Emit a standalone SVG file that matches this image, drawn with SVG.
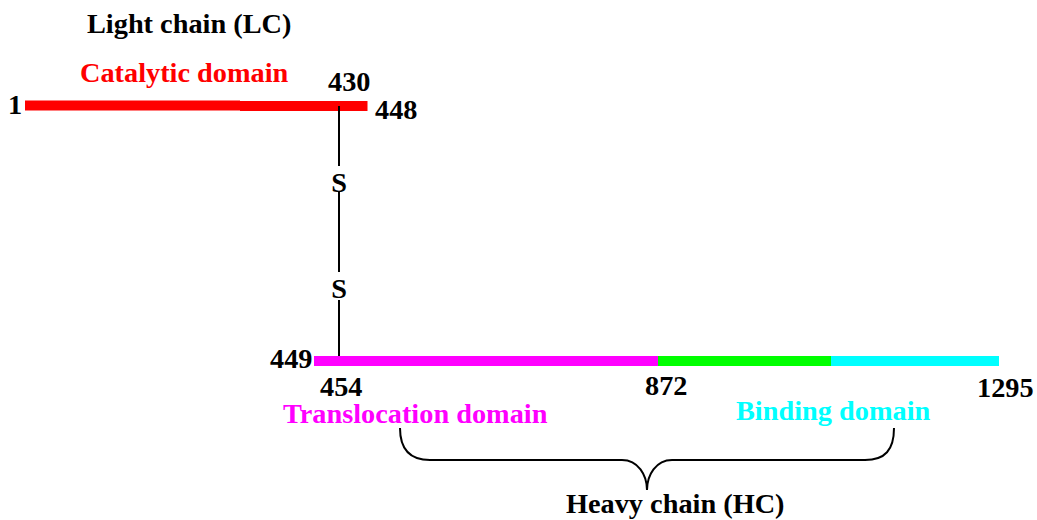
<svg xmlns="http://www.w3.org/2000/svg" width="1037" height="520" viewBox="0 0 1037 520">
<style>
text{font-family:"Liberation Serif","Times New Roman",serif;font-weight:bold;font-size:28.3px;fill:#000}
.red{fill:#ff0000}.mag{fill:#ff00ff}.cyan{fill:#00ffff}
.ln{stroke:#000;stroke-width:2;fill:none}
</style>
<rect width="1037" height="520" fill="#fff"/>
<g id="light-chain">
<text x="87" y="33">Light chain (LC)</text>
<text class="red" x="80" y="82">Catalytic domain</text>
<rect x="25" y="100.5" width="215" height="10" fill="#ff0000"/>
<rect x="240" y="101" width="127.5" height="10" fill="#ff0000"/>
<text x="8" y="114">1</text>
<text x="328" y="91">430</text>
<text x="375" y="119">448</text>
</g>
<g id="connectors">
<line class="ln" x1="339" y1="106" x2="339" y2="166"/>
<line class="ln" x1="339" y1="192" x2="339" y2="272"/>
<line class="ln" x1="339" y1="300" x2="339" y2="357"/>
<path class="ln" d="M400,428 C400,450 410,460 430,460 L622,460 C638,460 647,475 647,490 C647,475 656,460 672,460 L865,460 C885,460 894,450 894,428"/>
</g>
<g id="disulfide">
<text x="339" y="192" text-anchor="middle">S</text>
<text x="339" y="298" text-anchor="middle">S</text>
</g>
<g id="heavy-chain">
<rect x="314" y="356" width="344" height="10" fill="#ff00ff"/>
<rect x="658" y="356" width="173" height="10" fill="#00ff00"/>
<rect x="831" y="356" width="168" height="10" fill="#00ffff"/>
<text x="270" y="368">449</text>
<text x="320" y="396">454</text>
<text x="645" y="395">872</text>
<text x="977" y="397">1295</text>
<text class="mag" x="283" y="423">Translocation domain</text>
<text class="cyan" x="736" y="420">Binding domain</text>
<text x="566" y="513">Heavy chain (HC)</text>
</g>
</svg>
